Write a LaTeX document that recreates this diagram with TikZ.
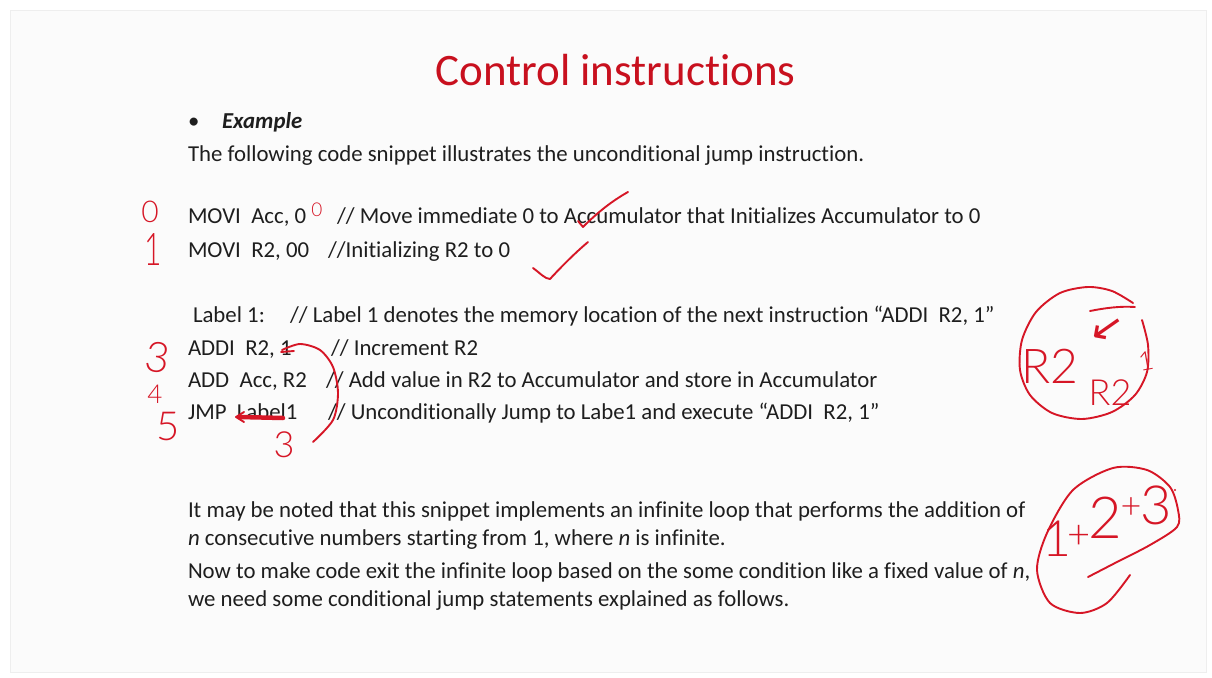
\documentclass[tikz,border=0pt]{standalone}
\usepackage{fontspec}
\setmainfont{Carlito}[Ligatures=CommonOff]
\newfontfamily\hand{Lato Light}
\newfontfamily\symb{DejaVu Sans}
\definecolor{ink}{RGB}{30,30,30}
\definecolor{titlered}{RGB}{200,16,30}
\definecolor{penred}{RGB}{214,22,38}
\definecolor{slidebg}{RGB}{251,251,251}
\definecolor{slideedge}{RGB}{238,238,238}
\begin{document}
\begin{tikzpicture}[x=1pt,y=-1pt,
  txt/.style={anchor=base west, inner sep=0pt, outer sep=0pt, text=ink, font=\fontsize{22.8}{26}\selectfont},
  titletxt/.style={anchor=base, inner sep=0pt, text=titlered, font=\fontsize{45}{54}\selectfont},
  penline/.style={draw=penred, line width=1.9pt, line cap=round, line join=round},
  hw/.style={text=penred, inner sep=0pt, font=\hand\fontsize{#1}{#1}\selectfont},
]
\useasboundingbox (0,0) rectangle (1212,677);
\fill[white] (0,0) rectangle (1212,677);
\filldraw[fill=slidebg, draw=slideedge, line width=0.6pt] (10,10) rectangle (1206,672);

% slide text
\node[titletxt] (title) at (615.5,85) {Control instructions};
\node[txt] (bullet) at (188,128) {•};
\node[txt, font=\fontsize{22.8}{26}\selectfont\bfseries\itshape] (ex) at (222,128) {Example};
\node[txt] (intro) at (188,161) {The following code snippet illustrates the unconditional jump instruction.};
\node[txt] (l1a) at (188,223) {MOVI\ \ Acc, 0};
\node[txt] (l1b) at (337,223) {// Move immediate 0 to Accumulator that Initializes Accumulator to 0};
\node[txt] (l2a) at (188,257) {MOVI\ \ R2, 00};
\node[txt] (l2b) at (328,257) {//Initializing R2 to 0};
\node[txt] (l3a) at (193,322) {Label 1:};
\node[txt] (l3b) at (290,322) {// Label 1 denotes the memory location of the next instruction “ADDI\ \ R2, 1”};
\node[txt] (l4a) at (188,355) {ADDI\ \ R2, 1};
\node[txt] (l4b) at (331,355) {// Increment R2};
\node[txt] (l5a) at (188,387) {ADD\ \ Acc, R2};
\node[txt] (l5b) at (326,387) {// Add value in R2 to Accumulator and store in Accumulator};
\node[txt] (l6a) at (188,419) {JMP\ \ Label1};
\node[txt] (l6b) at (328,419) {// Unconditionally Jump to Labe1 and execute “ADDI\ \ R2, 1”};
\node[txt] (p1) at (188,517) {It may be noted that this snippet implements an infinite loop that performs the addition of};
\node[txt] (p2) at (188,545) {\textit{n} consecutive numbers starting from 1, where \textit{n} is infinite.};
\node[txt] (p3) at (188,578) {Now to make code exit the infinite loop based on the some condition like a fixed value of \textit{n},};
\node[txt] (p4) at (188,606) {we need some conditional jump statements explained as follows.};

% handwritten numbers
\node[hw=30] (a0) at (150,212) {0};
\node[hw=30] (a1) at (153,250) {\scalebox{1}[1.5]{1}};
\node[hw=19] (a0s) at (317,210) {0};
\node[hw=42, rotate=-8] (a3) at (158,357) {3};
\node[hw=26] (a4) at (155,394) {4};
\node[hw=40] (a5) at (168,427) {5};
\node[hw=36] (a3b) at (284,445) {3};

% check marks
\draw[penline] (578,221) -- (583,227) .. controls (598,212) and (612,201) .. (628,192);
\draw[penline] (533,268) .. controls (540,273) and (545,279) .. (550,279) .. controls (562,266) and (575,253) .. (588,242);

% loop-back bracket and strike-through
\draw[penline] plot[smooth] coordinates {(282,350) (300,344) (320,350) (333,367) (338,393) (333,420) (313,442)};
\draw[penline] (281,352) -- (294,351);
\draw[penline, line width=4.5pt] (240,417) -- (283,418);
\draw[penline] (244,412) -- (236,417) -- (244,422);

% R2 <- R2+1 circle
\draw[penline] plot[smooth] coordinates {(1133,303) (1112,291) (1088,287) (1060,293) (1036,312) (1022,340) (1020,370) (1030,395) (1052,413) (1082,419) (1112,412) (1135,395) (1147,372) (1148,345) (1142,320)};
\draw[penline] (1090,311) .. controls (1105,308) and (1120,306) .. (1135,307);
\node[hw=48] (r2a) at (1050,366) {R2};
\node[text=penred, inner sep=0pt, font=\symb\fontsize{40}{40}\selectfont, rotate=35] (arr) at (1108,330) {←};
\node[hw=36] (r2b) at (1110,393) {R2};
\node[hw=26, rotate=10] (r2c) at (1146,361) {1};

% 1+2+3 loop
\draw[penline] plot[smooth] coordinates {(1130,575) (1107,603) (1080,613) (1050,603) (1037,570) (1047,533) (1073,490) (1113,468) (1147,470) (1170,487) (1178,510) (1177,527) (1150,545) (1117,562) (1088,577)};
\node[hw=50] (s1) at (1057,539) {1};
\node[hw=40] (s2) at (1079,537) {+};
\node[hw=58] (s3) at (1105,518) {2};
\node[hw=36] (s4) at (1131,508) {+};
\node[hw=54] (s5) at (1156,505) {3};
\fill[penred] (1175,490) circle (1.2);
\end{tikzpicture}
\end{document}
